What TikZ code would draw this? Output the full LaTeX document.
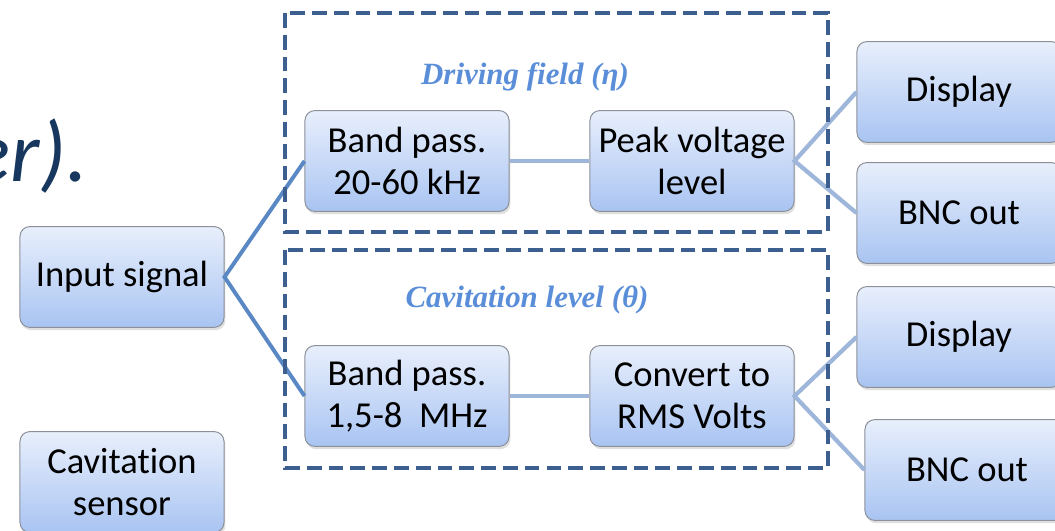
\documentclass[tikz,border=0pt]{standalone}
\usepackage{fontspec}
\setmainfont[Ligatures=NoCommon]{Carlito}
\newfontfamily\captionfont{Liberation Serif}
\usetikzlibrary{shadows,positioning}

\definecolor{boxtop}{HTML}{E8EFFC}
\definecolor{boxbot}{HTML}{A9C4F2}
\definecolor{boxedge}{HTML}{8C9099}
\definecolor{darkwire}{HTML}{5A88C4}
\definecolor{lightwire}{HTML}{9DB6D9}
\definecolor{framecol}{HTML}{3D5F8F}
\definecolor{captioncol}{HTML}{5B8ED8}
\definecolor{slidetext}{HTML}{17375E}

\tikzset{
  block/.style={draw=boxedge, line width=0.7pt, rounded corners=7pt,
    top color=boxtop, bottom color=boxbot, align=center,
    minimum width=5.1cm, minimum height=2.52cm, inner sep=0pt,
    font=\fontsize{26}{30}\selectfont,
    drop shadow={opacity=0.25, shadow xshift=1pt, shadow yshift=-2pt}},
  mainwire/.style={draw=darkwire, line width=2.8pt},
  sidewire/.style={draw=lightwire, line width=3pt},
  stagebox/.style={draw=framecol, line width=2.9pt, dash pattern=on 10.5pt off 5pt},
  stagelabel/.style={text=captioncol, font=\captionfont\bfseries\itshape\fontsize{22}{26}\selectfont}
}

\begin{document}
\begin{tikzpicture}[x=0.025cm, y=-0.025cm]
  \useasboundingbox (0,0) rectangle (1055,531);

  % leftover slide text
  \node[anchor=base east, text=slidetext, font=\itshape\fontsize{61}{70}\selectfont, inner sep=0pt] (slide) at (88,182) {er).};

  % sources
  \node[block] (input) at (122,277) {Input signal};
  \node[block] (sensor) at (122,482) {Cavitation\\sensor};

  % driving field branch
  \node[block] (bpa) at (407,161) {Band pass.\\20-60 kHz};
  \node[block] (peak) at (692,161) {Peak voltage\\level};
  \node[block] (dispa) at (959,92) {Display};
  \node[block] (bnca) at (959,213) {BNC out};

  % cavitation branch
  \node[block] (bpb) at (407,396) {Band pass.\\1,5-8~ MHz};
  \node[block] (rms) at (692,396) {Convert to\\RMS Volts};
  \node[block] (dispb) at (959,337) {Display};
  \node[block] (bncb) at (967,470) {BNC out};

  \draw[mainwire] (bpa.west) -- (input.east) -- (bpb.west);
  \draw[sidewire] (bpa) -- (peak);
  \draw[sidewire] (bpb) -- (rms);
  \draw[sidewire] (dispa.west) -- (peak.east) -- (bnca.west);
  \draw[sidewire] (dispb.west) -- (rms.east) -- (bncb.west);

  % stage frames
  \draw[stagebox] (285,13) rectangle (828,232);
  \draw[stagebox] (285,250) rectangle (828,468);
  \node[stagelabel] (drivelbl) at (525,77) {Driving field (η)};
  \node[stagelabel] (cavlbl) at (527,300) {Cavitation level (θ)};
\end{tikzpicture}
\end{document}
